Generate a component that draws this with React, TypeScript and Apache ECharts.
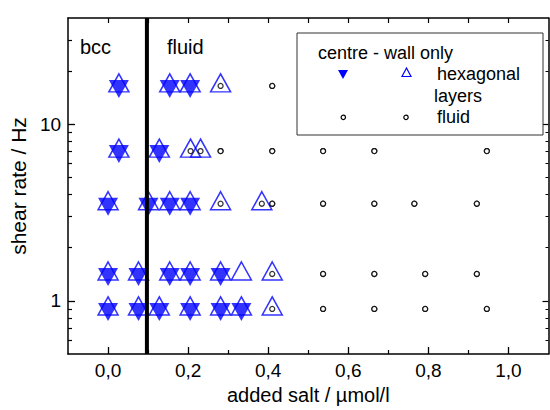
import React, { useEffect, useRef } from "react";
import * as echarts from "echarts";

// shear rate rows (Hz)
const rates = [16.5, 7.05, 3.55, 1.42, 0.9];
// added salt (µmol/l) per row
const centreHexSalt = [
  [0.027, 0.154, 0.205],
  [0.027, 0.128],
  [0.0, 0.101, 0.154, 0.205],
  [0.0, 0.076, 0.154, 0.205, 0.281],
  [0.0, 0.076, 0.128, 0.205, 0.281, 0.333],
];
const wallHexSalt = [
  [0.027, 0.154, 0.205, 0.281],
  [0.027, 0.128, 0.206, 0.231],
  [0.0, 0.101, 0.154, 0.205, 0.281, 0.384],
  [0.0, 0.076, 0.154, 0.205, 0.281, 0.333, 0.41],
  [0.0, 0.076, 0.128, 0.205, 0.281, 0.333, 0.41],
];
const centreFluidSalt = [
  [0.281, 0.41],
  [0.206, 0.231, 0.281, 0.41, 0.537, 0.665, 0.946],
  [0.281, 0.384, 0.41, 0.537, 0.665, 0.765, 0.921],
  [0.41, 0.537, 0.665, 0.792, 0.921],
  [0.41, 0.537, 0.665, 0.792, 0.946],
];
const wallFluidSalt = [
  [0.41],
  [0.281, 0.41, 0.537, 0.665, 0.946],
  [0.41, 0.537, 0.665, 0.765, 0.921],
  [0.537, 0.665, 0.792, 0.921],
  [0.537, 0.665, 0.792, 0.946],
];
const boundarySalt = 0.097;
const rateRange = [0.5, 40];
const saltRange = [-0.1, 1.1];

const majorX = [0, 0.2, 0.4, 0.6, 0.8, 1.0];
const minorX = [0.1, 0.3, 0.5, 0.7, 0.9];
const topX = [0, 0.1, 0.2, 0.3, 0.4, 0.5, 0.6, 0.7, 0.8, 0.9, 1.0];
const majorY = [1, 10];
const minorY = [0.6, 0.7, 0.8, 0.9, 2, 3, 4, 5, 6, 7, 8, 9, 20, 30];

const FONT = "'Liberation Sans', Arial, Helvetica, sans-serif";
const BLUE = "#0000ff";

function pairs(rows: number[][]): number[][] {
  const out: number[][] = [];
  rows.forEach((r, i) => r.forEach((x) => out.push([x, rates[i]])));
  return out;
}

export default function App() {
  const ref = useRef<HTMLDivElement>(null);
  useEffect(() => {
    if (!ref.current) return;
    const chart = echarts.init(ref.current, null, { renderer: "svg" });
    const baseX = {
      type: "value" as const,
      min: saltRange[0],
      max: saltRange[1],
      splitLine: { show: false },
    };
    const baseY = {
      type: "log" as const,
      min: rateRange[0],
      max: rateRange[1],
      splitLine: { show: false },
    };
    const lineStyle = { color: "#000", width: 1.5 };
    chart.setOption({
      animation: false,
      textStyle: { fontFamily: FONT },
      grid: { left: 62, right: 1.5, top: 18, bottom: 50, containLabel: false },
      xAxis: [
        {
          ...baseX,
          position: "bottom",
          axisLine: { show: true, onZero: false, lineStyle },
          axisTick: { show: true, inside: true, length: 7, customValues: majorX, lineStyle: { color: "#000", width: 1.3 } },
          axisLabel: {
            customValues: majorX,
            formatter: (v: number) => v.toFixed(1).replace(".", ","),
            fontSize: 19,
            color: "#000",
            fontFamily: FONT,
            margin: 7,
          },
          name: "added salt / \u00b5mol/l",
          nameLocation: "middle",
          nameGap: 31,
          nameTextStyle: { fontSize: 20, color: "#000", fontFamily: FONT },
        },
        {
          ...baseX,
          position: "bottom",
          axisLine: { show: false, onZero: false },
          axisTick: { show: true, inside: true, length: 4, customValues: minorX, lineStyle: { color: "#000", width: 1.2 } },
          axisLabel: { show: false },
        },
        {
          ...baseX,
          position: "top",
          axisLine: { show: true, onZero: false, lineStyle },
          axisTick: { show: true, inside: true, length: 5, customValues: topX, lineStyle: { color: "#000", width: 1.2 } },
          axisLabel: { show: false },
        },
      ],
      yAxis: [
        {
          ...baseY,
          position: "left",
          axisLine: { show: true, onZero: false, lineStyle },
          axisTick: { show: true, inside: true, length: 7, customValues: majorY, lineStyle: { color: "#000", width: 1.3 } },
          axisLabel: { customValues: majorY, fontSize: 19, color: "#000", fontFamily: FONT, margin: 7 },
          name: "shear rate / Hz",
          nameLocation: "middle",
          nameRotate: 90,
          nameGap: 30,
          nameTextStyle: { fontSize: 21, color: "#000", fontFamily: FONT },
        },
        {
          ...baseY,
          position: "left",
          axisLine: { show: false, onZero: false },
          axisTick: { show: true, inside: true, length: 4, customValues: minorY, lineStyle: { color: "#000", width: 1.2 } },
          axisLabel: { show: false },
        },
        {
          ...baseY,
          position: "right",
          axisLine: { show: true, onZero: false, lineStyle },
          axisTick: { show: true, inside: true, length: 6, customValues: majorY, lineStyle: { color: "#000", width: 1.2 } },
          axisLabel: { show: false },
        },
        {
          ...baseY,
          position: "right",
          axisLine: { show: false, onZero: false },
          axisTick: { show: true, inside: true, length: 3, customValues: minorY, lineStyle: { color: "#000", width: 1 } },
          axisLabel: { show: false },
        },
      ],
      series: [
        {
          name: "wall hexagonal",
          type: "scatter",
          xAxisIndex: 0,
          yAxisIndex: 0,
          data: pairs(wallHexSalt),
          symbol: "triangle",
          symbolSize: [20, 18],
          symbolOffset: [0, -3],
          itemStyle: { color: "rgba(255,255,255,0)", borderColor: BLUE, borderWidth: 1.5 },
          emphasis: { disabled: true },
          silent: true,
          z: 2,
        },
        {
          name: "centre hexagonal",
          type: "scatter",
          xAxisIndex: 0,
          yAxisIndex: 0,
          data: pairs(centreHexSalt),
          symbol: "triangle",
          symbolRotate: 180,
          symbolSize: [20, 18],
          symbolOffset: [0, 3],
          itemStyle: { color: BLUE },
          emphasis: { disabled: true },
          silent: true,
          z: 3,
        },
        {
          name: "wall fluid",
          type: "scatter",
          xAxisIndex: 0,
          yAxisIndex: 0,
          data: pairs(wallFluidSalt),
          symbol: "circle",
          symbolSize: 5,
          itemStyle: { color: "#fff", borderColor: "#000", borderWidth: 1.3 },
          emphasis: { disabled: true },
          silent: true,
          z: 4,
        },
        {
          name: "centre fluid",
          type: "scatter",
          xAxisIndex: 0,
          yAxisIndex: 0,
          data: pairs(centreFluidSalt),
          symbol: "circle",
          symbolSize: 5,
          itemStyle: { color: "#fff", borderColor: "#000", borderWidth: 1.3 },
          emphasis: { disabled: true },
          silent: true,
          z: 4,
        },
        {
          name: "boundary",
          type: "line",
          xAxisIndex: 0,
          yAxisIndex: 0,
          data: [
            [boundarySalt, rateRange[0]],
            [boundarySalt, rateRange[1]],
          ],
          symbol: "none",
          lineStyle: { color: "#000", width: 4 },
          silent: true,
          z: 5,
        },
      ],
      graphic: [
        { type: "text", x: 80, y: 47, style: { text: "bcc", fontSize: 20, fontFamily: FONT, fill: "#000", align: "left", verticalAlign: "middle" }, z: 10 },
        { type: "text", x: 167, y: 47, style: { text: "fluid", fontSize: 20, fontFamily: FONT, fill: "#000", align: "left", verticalAlign: "middle" }, z: 10 },
        { type: "rect", shape: { x: 297, y: 33, width: 246, height: 102 }, style: { fill: "#fff", stroke: "#333", lineWidth: 1 }, z: 10 },
        { type: "text", x: 318, y: 53, style: { text: "centre - wall only", fontSize: 18, fontFamily: FONT, fill: "#000", align: "left", verticalAlign: "middle" }, z: 11 },
        { type: "polygon", shape: { points: [[338, 70], [348, 70], [343, 79]] }, style: { fill: BLUE }, z: 11 },
        { type: "polygon", shape: { points: [[406.5, 68], [402, 76.5], [411, 76.5]] }, style: { fill: "none", stroke: BLUE, lineWidth: 1.2 }, z: 11 },
        { type: "text", x: 437, y: 74, style: { text: "hexagonal", fontSize: 18, fontFamily: FONT, fill: "#000", align: "left", verticalAlign: "middle" }, z: 11 },
        { type: "text", x: 434, y: 96, style: { text: "layers", fontSize: 18, fontFamily: FONT, fill: "#000", align: "left", verticalAlign: "middle" }, z: 11 },
        { type: "circle", shape: { cx: 343.3, cy: 117.3, r: 2.2 }, style: { fill: "#fff", stroke: "#000", lineWidth: 1.2 }, z: 11 },
        { type: "circle", shape: { cx: 406, cy: 117.3, r: 2.2 }, style: { fill: "#fff", stroke: "#000", lineWidth: 1.2 }, z: 11 },
        { type: "text", x: 437, y: 117, style: { text: "fluid", fontSize: 18, fontFamily: FONT, fill: "#000", align: "left", verticalAlign: "middle" }, z: 11 },
      ],
    });
    return () => chart.dispose();
  }, []);
  return (
    <div
      ref={ref}
      style={{ position: "fixed", left: 0, top: 0, width: 550, height: 410, background: "#fff" }}
    />
  );
}
